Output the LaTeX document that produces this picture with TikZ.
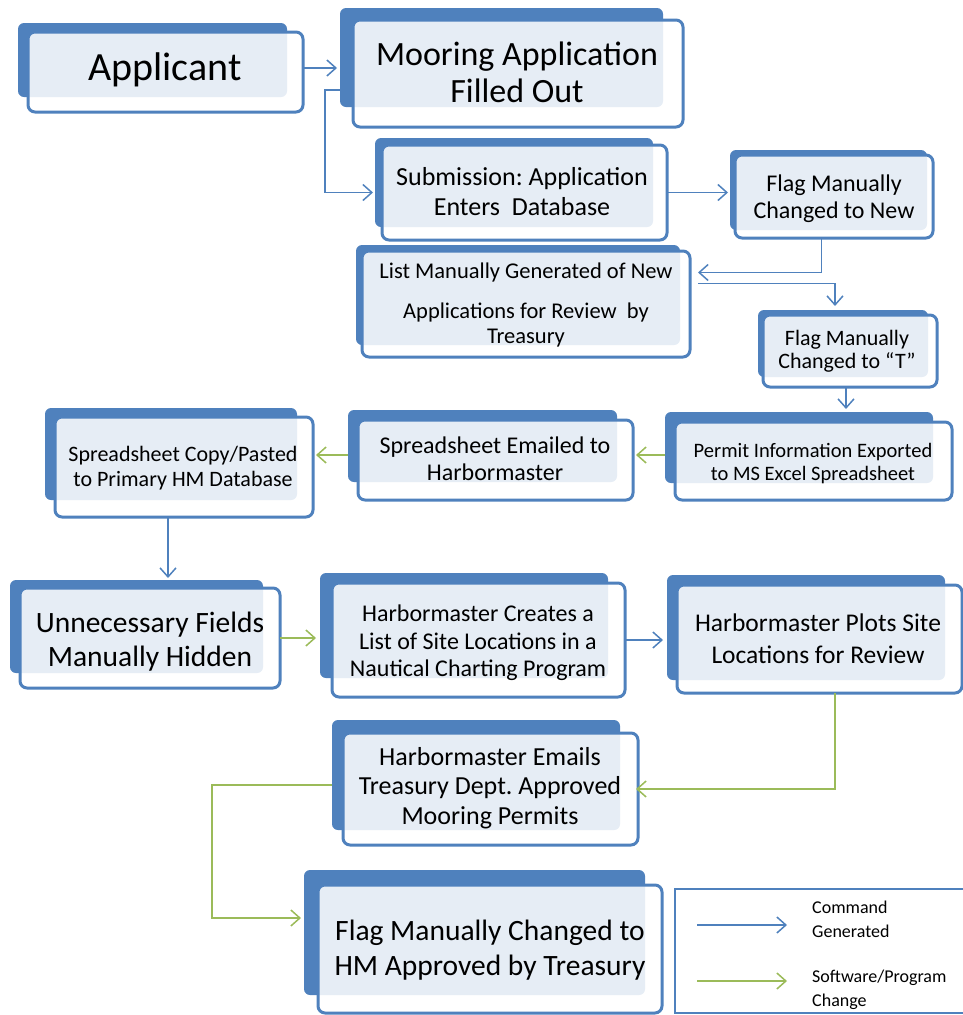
\documentclass[tikz,border=0pt]{standalone}
\usepackage{fontspec}
\setmainfont{Carlito}
\usetikzlibrary{arrows.meta,fit,calc}
\definecolor{hmblue}{HTML}{4F81BD}
\definecolor{hmgreen}{HTML}{9BBB59}
\frenchspacing
\begin{document}
\begin{tikzpicture}[x=1pt,y=-1pt,
  backbox/.style={fill=hmblue, rounded corners=6pt, inner sep=0pt, outer sep=0pt},
  frontbox/.style={draw=hmblue, line width=3pt, fill=white, fill opacity=0.86, rounded corners=7pt, inner sep=0pt, outer sep=0pt},
  boxtext/.style={inner sep=0pt, align=center, text=black},
  fs/.style 2 args={font=\fontsize{#1}{#2}\selectfont},
  barrow/.style={draw=hmblue, line width=1.5pt, -{Straight Barb[length=9pt,width=16pt,line width=1.5pt]}},
  garrow/.style={draw=hmgreen, line width=1.5pt, -{Straight Barb[length=9pt,width=16pt,line width=1.5pt]}}
]
\useasboundingbox (0,0) rectangle (962,1015);

% boxes
\node[backbox, fit={(18,23)(287,97)}] (app-b) {};
\node[frontbox, fit={(28,32)(303,112)}] (app) {};
\node[boxtext, fs={40}{44}] (app-t) at (165,70) {Applicant};

\node[backbox, fit={(340,8)(663,107)}] (moor-b) {};
\node[frontbox, fit={(353,20)(683,127)}] (moor) {};
\node[boxtext, fs={34}{37}] (moor-t) at (517,72) {Mooring Application\\Filled Out};

\node[backbox, fit={(375,138)(653,227)}] (sub-b) {};
\node[frontbox, fit={(382,145)(667,240)}] (sub) {};
\node[boxtext, fs={26}{30}] (sub-t) at (522,192) {Submission: Application\\Enters~~Database};

\node[backbox, fit={(356,245)(680,345)}] (list-b) {};
\node[frontbox, fit={(362,251)(690,357)}] (list) {};
\node[boxtext, fs={22.5}{25}] (list-t) at (526,304.5) {List Manually Generated of New\\[15pt]Applications for Review~~by\\Treasury};

\node[backbox, fit={(730,150)(927,230)}] (flagnew-b) {};
\node[frontbox, fit={(735,155)(933,238)}] (flagnew) {};
\node[boxtext, fs={24}{27}] (flagnew-t) at (834,199) {Flag Manually\\Changed to New};

\node[backbox, fit={(758,310)(928,377)}] (flagT-b) {};
\node[frontbox, fit={(763,315)(937,387)}] (flagT) {};
\node[boxtext, fs={22}{23.5}] (flagT-t) at (847,351) {Flag Manually\\Changed to “T”};

\node[backbox, fit={(665,412)(933,483)}] (permit-b) {};
\node[frontbox, fit={(675,422)(952,500)}] (permit) {};
\node[boxtext, fs={20.5}{23}] (permit-t) at (813,464) {Permit Information Exported\\to MS Excel Spreadsheet};

\node[backbox, fit={(348,410)(617,482)}] (email-b) {};
\node[frontbox, fit={(358,420)(633,500)}] (email) {};
\node[boxtext, fs={24}{27}] (email-t) at (495,459) {Spreadsheet Emailed to\\Harbormaster};

\node[backbox, fit={(45,408)(297,500)}] (copy-b) {};
\node[frontbox, fit={(55,417)(313,517)}] (copy) {};
\node[boxtext, fs={22}{25}] (copy-t) at (183,468) {Spreadsheet Copy/Pasted\\to Primary HM Database};

\node[backbox, fit={(10,580)(263,673)}] (unnec-b) {};
\node[frontbox, fit={(20,588)(280,688)}] (unnec) {};
\node[boxtext, fs={29.5}{34}] (unnec-t) at (150,642) {Unnecessary Fields\\Manually Hidden};

\node[backbox, fit={(320,573)(608,678)}] (creates-b) {};
\node[frontbox, fit={(332,583)(625,697)}] (creates) {};
\node[boxtext, fs={24}{27.5}] (creates-t) at (478,643) {Harbormaster Creates a\\List of Site Locations in a\\Nautical Charting Program};

\node[backbox, fit={(667,575)(945,680)}] (plots-b) {};
\node[frontbox, fit={(677,585)(962,693)}] (plots) {};
\node[boxtext, fs={25.5}{32}] (plots-t) at (818,639) {Harbormaster Plots Site\\Locations for Review};

\node[backbox, fit={(332,720)(620,830)}] (hmemail-b) {};
\node[frontbox, fit={(343,733)(638,845)}] (hmemail) {};
\node[boxtext, fs={26}{29.5}] (hmemail-t) at (490,788) {Harbormaster Emails\\Treasury Dept. Approved\\Mooring Permits};

\node[backbox, fit={(304,870)(645,995)}] (flaghm-b) {};
\node[frontbox, fit={(318,885)(662,1013)}] (flaghm) {};
\node[boxtext, fs={29.5}{35}] (flaghm-t) at (490,950) {Flag Manually Changed to\\HM Approved by Treasury};

% legend
\node[draw=hmblue, line width=2.5pt, fill=white, inner sep=0pt, fit={(675,889)(966,1013)}] (legend) {};
\coordinate (lb1) at (697,925);
\coordinate (lb2) at (787,925);
\coordinate (lg1) at (697,981);
\coordinate (lg2) at (787,981);
\draw[barrow] (lb1) -- (lb2);
\draw[garrow] (lg1) -- (lg2);
\node[anchor=west, align=left, inner sep=0pt, fs={18}{24}] (lt1) at (812,919) {Command\\Generated};
\node[anchor=west, align=left, inner sep=0pt, fs={18}{24}] (lt2) at (812,990) {Software/Program\\Change};

% connectors
\draw[barrow, shorten >=3pt] ([yshift=4]app.east) -- ([yshift=4]app.east -| moor-b.west);
\draw[barrow, shorten >=2pt] ([yshift=-16.5]moor.west -| moor-b.west) -- ++(-15,0) |- (sub.west -| sub-b.west);
\draw[barrow, shorten >=2pt] (sub.east) -- (sub.east -| flagnew-b.west);
\draw[barrow] ([xshift=-12.5]flagnew.south) |- ([xshift=8,yshift=31.5]list.east);
\draw[barrow, shorten >=4pt] ([xshift=8,yshift=20.5]list.east) -| ([xshift=-8]flagT-b.north);
\draw[barrow, shorten >=3pt] ([xshift=-4]flagT.south) -- ([xshift=-4]flagT.south |- permit-b.north);
\draw[garrow, shorten >=3pt] ([yshift=-7.5]permit-b.west) -- ([yshift=-7.5]permit-b.west -| email.east);
\draw[garrow, shorten >=3pt] ([yshift=-9]email-b.west) -- ([yshift=-9]email-b.west -| copy.east);
\draw[barrow, shorten >=2pt] ([xshift=-16]copy.south) -- ([xshift=-16]copy.south |- unnec-b.north);
\draw[garrow, shorten >=4pt] (unnec.east) -- (unnec.east -| creates-b.west);
\draw[barrow, shorten >=4pt] (creates.east) -- (creates.east -| plots-b.west);
\draw[garrow, shorten >=-2pt] ([xshift=15.5]plots.south) |- (hmemail.east);
\draw[garrow, shorten >=3pt] ([yshift=-10]hmemail-b.west) -- ++(-120,0) |- ([yshift=14.5]flaghm-b.west);
\end{tikzpicture}
\end{document}
